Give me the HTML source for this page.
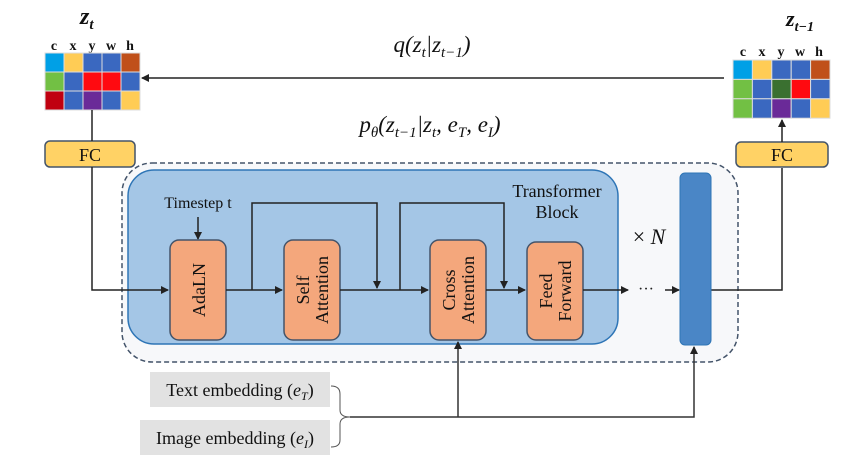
<!DOCTYPE html>
<html><head><meta charset="utf-8"><style>
html,body{margin:0;padding:0;background:#fff;}
svg{display:block;font-family:"Liberation Serif",serif;}
</style></head><body>
<svg width="866" height="468" viewBox="0 0 866 468" xmlns="http://www.w3.org/2000/svg">
<defs>
<marker id="a" markerWidth="8" markerHeight="8" refX="7" refY="4" orient="auto" markerUnits="userSpaceOnUse">
<path d="M0,0 L8,4 L0,8 z" fill="#222"/></marker>
</defs>
<rect width="866" height="468" fill="#fff"/>
<text x="80" y="24" font-size="24" font-style="italic" font-weight="bold" fill="#111">z<tspan font-size="15" dy="5">t</tspan></text>
<text x="800" y="26" font-size="22" text-anchor="middle" font-style="italic" font-weight="bold" fill="#111">z<tspan font-size="14" dy="5">t−1</tspan></text>
<g font-size="14" fill="#111" text-anchor="middle" font-weight="bold">
<text x="54" y="50">c</text><text x="73" y="50">x</text><text x="92" y="50">y</text><text x="111" y="50">w</text><text x="130" y="50">h</text>
<text x="743" y="56">c</text><text x="762" y="56">x</text><text x="781" y="56">y</text><text x="800" y="56">w</text><text x="819" y="56">h</text>
</g>
<g stroke="#ddd" stroke-width="1">
<rect x="45" y="53" width="19" height="19" fill="#00a0e6"/><rect x="64" y="53" width="19" height="19" fill="#ffcc55"/><rect x="83" y="53" width="19" height="19" fill="#3a68c0"/><rect x="102" y="53" width="19" height="19" fill="#3a68c0"/><rect x="121" y="53" width="19" height="19" fill="#c0501a"/>
<rect x="45" y="72" width="19" height="19" fill="#72c044"/><rect x="64" y="72" width="19" height="19" fill="#3a68c0"/><rect x="83" y="72" width="19" height="19" fill="#ff0a10"/><rect x="102" y="72" width="19" height="19" fill="#ff0a10"/><rect x="121" y="72" width="19" height="19" fill="#3a68c0"/>
<rect x="45" y="91" width="19" height="19" fill="#c00010"/><rect x="64" y="91" width="19" height="19" fill="#3a68c0"/><rect x="83" y="91" width="19" height="19" fill="#6a2a98"/><rect x="102" y="91" width="19" height="19" fill="#3a68c0"/><rect x="121" y="91" width="19" height="19" fill="#ffcc55"/>
</g>
<g stroke="#ddd" stroke-width="1">
<rect x="733" y="60" width="19.4" height="19.4" fill="#00a0e6"/><rect x="752.4" y="60" width="19.4" height="19.4" fill="#ffcc55"/><rect x="771.8" y="60" width="19.4" height="19.4" fill="#3a68c0"/><rect x="791.2" y="60" width="19.4" height="19.4" fill="#3a68c0"/><rect x="810.6" y="60" width="19.4" height="19.4" fill="#c0501a"/>
<rect x="733" y="79.4" width="19.4" height="19.4" fill="#72c044"/><rect x="752.4" y="79.4" width="19.4" height="19.4" fill="#3a68c0"/><rect x="771.8" y="79.4" width="19.4" height="19.4" fill="#3a7030"/><rect x="791.2" y="79.4" width="19.4" height="19.4" fill="#ff0a10"/><rect x="810.6" y="79.4" width="19.4" height="19.4" fill="#3a68c0"/>
<rect x="733" y="98.8" width="19.4" height="19.4" fill="#72c044"/><rect x="752.4" y="98.8" width="19.4" height="19.4" fill="#3a68c0"/><rect x="771.8" y="98.8" width="19.4" height="19.4" fill="#6a2a98"/><rect x="791.2" y="98.8" width="19.4" height="19.4" fill="#3a68c0"/><rect x="810.6" y="98.8" width="19.4" height="19.4" fill="#ffcc55"/>
</g>
<line x1="724" y1="78" x2="142" y2="78" stroke="#222" stroke-width="1.5" marker-end="url(#a)"/>
<text x="432" y="52" font-size="23" font-style="italic" text-anchor="middle" fill="#111">q(z<tspan font-size="15" dy="5">t</tspan><tspan dy="-5">|z</tspan><tspan font-size="15" dy="5">t−1</tspan><tspan dy="-5">)</tspan></text>
<text x="430" y="132" font-size="23" font-style="italic" text-anchor="middle" fill="#111">p<tspan font-size="15" dy="5">θ</tspan><tspan dy="-5">(z</tspan><tspan font-size="15" dy="5">t−1</tspan><tspan dy="-5">|z</tspan><tspan font-size="15" dy="5">t</tspan><tspan dy="-5">, e</tspan><tspan font-size="15" dy="5">T</tspan><tspan dy="-5">, e</tspan><tspan font-size="15" dy="5">I</tspan><tspan dy="-5">)</tspan></text>
<rect x="122" y="163" width="616" height="199" rx="30" fill="#f7f8fa" stroke="#44546a" stroke-width="1.5" stroke-dasharray="5,3"/>
<rect x="128" y="170" width="490" height="174" rx="26" fill="#a4c6e6" stroke="#2e75b6" stroke-width="1.5"/>
<rect x="45" y="141" width="90" height="26" rx="5" fill="#ffd265" stroke="#44546a" stroke-width="1.5"/>
<text x="90" y="161" font-size="18" text-anchor="middle" fill="#111">FC</text>
<rect x="736" y="142" width="92" height="25" rx="5" fill="#ffd265" stroke="#44546a" stroke-width="1.5"/>
<text x="782" y="161" font-size="18" text-anchor="middle" fill="#111">FC</text>
<line x1="92" y1="110" x2="92" y2="141" stroke="#222" stroke-width="1.5"/>
<polyline points="92,167 92,290 168,290" fill="none" stroke="#222" stroke-width="1.5" marker-end="url(#a)"/>
<text x="198" y="208" font-size="16" text-anchor="middle" fill="#111">Timestep t</text>
<line x1="198" y1="217" x2="198" y2="239" stroke="#222" stroke-width="1.5" marker-end="url(#a)"/>
<g fill="#f4a77c" stroke="#44546a" stroke-width="1.5">
<rect x="170" y="240" width="56" height="100" rx="9"/>
<rect x="284" y="240" width="56" height="100" rx="9"/>
<rect x="430" y="240" width="56" height="100" rx="9"/>
<rect x="527" y="242" width="56" height="98" rx="9"/>
</g>
<g font-size="18" fill="#111" text-anchor="middle">
<text transform="translate(205,290) rotate(-90)">AdaLN</text>
<text transform="translate(309,290) rotate(-90)">Self</text>
<text transform="translate(328,290) rotate(-90)">Attention</text>
<text transform="translate(455,290) rotate(-90)">Cross</text>
<text transform="translate(474,290) rotate(-90)">Attention</text>
<text transform="translate(552,291) rotate(-90)">Feed</text>
<text transform="translate(571,291) rotate(-90)">Forward</text>
</g>
<g stroke="#222" stroke-width="1.5" fill="none">
<line x1="226" y1="290" x2="282" y2="290" marker-end="url(#a)"/>
<line x1="340" y1="290" x2="428" y2="290" marker-end="url(#a)"/>
<line x1="486" y1="290" x2="525" y2="290" marker-end="url(#a)"/>
<line x1="583" y1="290" x2="628" y2="290" marker-end="url(#a)"/>
<polyline points="252,290 252,203 377,203 377,288" marker-end="url(#a)"/>
<polyline points="400,290 400,203 504,203 504,288" marker-end="url(#a)"/>
<line x1="665" y1="290" x2="679" y2="290" marker-end="url(#a)"/>
<polyline points="711,290 782,290 782,168"/>
<line x1="782" y1="142" x2="782" y2="120" marker-end="url(#a)"/>
</g>
<text x="646" y="294" font-size="16" text-anchor="middle" fill="#222">···</text>
<text x="557" y="197" font-size="18" text-anchor="middle" fill="#111">Transformer</text>
<text x="557" y="218" font-size="18" text-anchor="middle" fill="#111">Block</text>
<text x="649" y="244" font-size="22" text-anchor="middle" fill="#111">× <tspan font-style="italic">N</tspan></text>
<rect x="680" y="173" width="31" height="172" rx="5" fill="#4a86c6" stroke="#2e75b6" stroke-width="1"/>
<rect x="150" y="372" width="180" height="35" fill="#e2e2e2"/>
<text x="240" y="396" font-size="18" text-anchor="middle" fill="#111">Text embedding (<tspan font-style="italic">e</tspan><tspan font-style="italic" font-size="12" dy="4">T</tspan><tspan dy="-4">)</tspan></text>
<rect x="140" y="420" width="190" height="35" fill="#e2e2e2"/>
<text x="235" y="444" font-size="18" text-anchor="middle" fill="#111">Image embedding (<tspan font-style="italic">e</tspan><tspan font-style="italic" font-size="12" dy="4">I</tspan><tspan dy="-4">)</tspan></text>
<path d="M331,386 Q340,386 340,394 L340,410 Q340,417 350,417 Q340,417 340,424 L340,440 Q340,447 331,447" fill="none" stroke="#555" stroke-width="1"/>
<g stroke="#333" stroke-width="1.5" fill="none">
<polyline points="350,417 694,417 694,347" marker-end="url(#a)"/>
<line x1="458" y1="417" x2="458" y2="342" marker-end="url(#a)"/>
</g>
</svg>
</body></html>
